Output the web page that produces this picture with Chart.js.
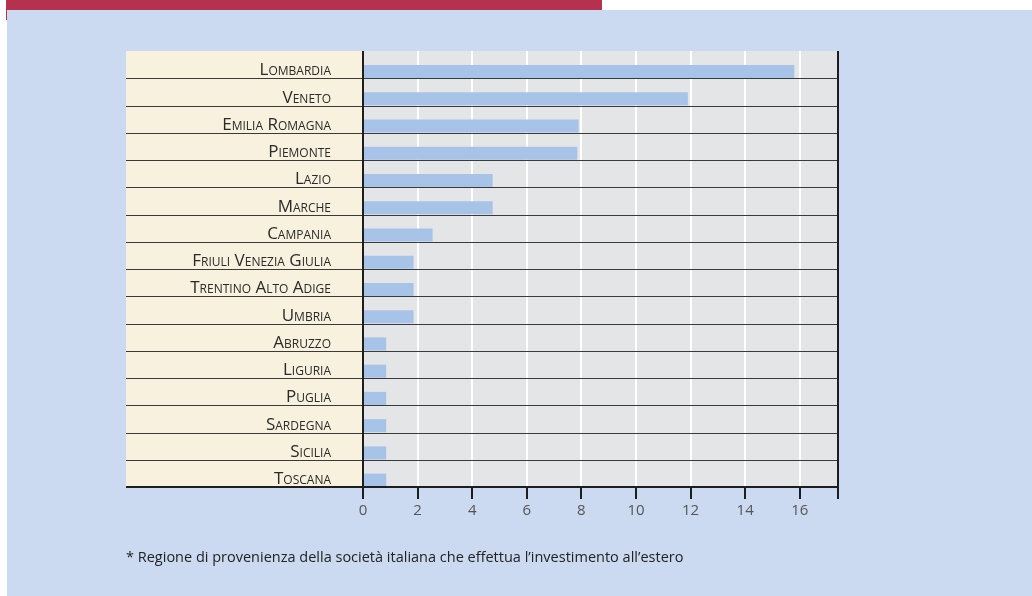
<!DOCTYPE html>
<html>
<head>
<meta charset="utf-8">
<script src="https://cdn.jsdelivr.net/npm/chart.js@4/dist/chart.umd.min.js"></script>
<style>
   html, body { margin: 0; padding: 0; background: #fff; }
   canvas { display: block; }
</style>
</head>
<body>
<canvas id="chart" width="1032" height="596"></canvas>
<script>
const regions = [
   'Lombardia', 'Veneto', 'Emilia Romagna', 'Piemonte', 'Lazio', 'Marche',
   'Campania', 'Friuli Venezia Giulia', 'Trentino Alto Adige', 'Umbria',
   'Abruzzo', 'Liguria', 'Puglia', 'Sardegna', 'Sicilia', 'Toscana',
]
const shares = [ 15.8, 11.9, 7.9, 7.85, 4.75, 4.75, 2.55, 1.85, 1.85, 1.85, 0.85, 0.85, 0.85, 0.85, 0.85, 0.85 ]
const xTicks = [ 0, 2, 4, 6, 8, 10, 12, 14, 16 ]
const footnote = '* Regione di provenienza della società italiana che effettua l’investimento all’estero'

const colors = {
   red: '#b5324e',
   panel: '#cbdaf0',
   labels: '#f7f1de',
   plot: '#e4e5e6',
   bar: '#a7c3e8',
   line: '#3a3a3a',
   axis: '#1e1e1e',
}

const labelLeft = 126

// backgrounds, row separators and the frame round the plot
const decorations = {
   id: 'decorations',
   beforeDraw( chart ) {
      const { ctx, chartArea: a } = chart
      ctx.save()
      ctx.fillStyle = '#fff'
      ctx.fillRect( 0, 0, chart.width, chart.height )
      ctx.fillStyle = colors.red
      ctx.fillRect( 6, 0, 596, 10 )
      ctx.fillRect( 6, 0, 1, 20 )
      ctx.fillStyle = colors.panel
      ctx.fillRect( 7, 10, chart.width - 7, chart.height - 10 )
      ctx.fillStyle = colors.labels
      ctx.fillRect( labelLeft, a.top, a.left - labelLeft, a.bottom - a.top )
      ctx.fillStyle = colors.plot
      ctx.fillRect( a.left, a.top, a.right - a.left, a.bottom - a.top )

      ctx.fillStyle = '#222'
      ctx.font = '14.5px "Open Sans"'
      ctx.textBaseline = 'middle'
      ctx.fillText( footnote, labelLeft, 558 )
      ctx.restore()
   },
   afterDatasetsDraw( chart ) {
      const { ctx, chartArea: a } = chart
      const y = chart.scales.y
      ctx.save()
      ctx.strokeStyle = colors.line
      ctx.lineWidth = 1
      for ( let i = 1; i < regions.length; i++ ) {
         const py = Math.round( y.getPixelForValue( i - 0.5 ) ) + 0.5
         ctx.beginPath()
         ctx.moveTo( labelLeft, py )
         ctx.lineTo( a.right, py )
         ctx.stroke()
      }
      ctx.restore()
   },
   afterDraw( chart ) {
      const { ctx, chartArea: a } = chart
      ctx.save()
      ctx.strokeStyle = colors.axis
      ctx.lineWidth = 2
      ctx.beginPath()
      ctx.moveTo( labelLeft, a.bottom )
      ctx.lineTo( a.right + 1, a.bottom )
      ctx.moveTo( a.left, a.top )
      ctx.lineTo( a.left, a.bottom + 12 )
      ctx.moveTo( a.right, a.top )
      ctx.lineTo( a.right, a.bottom + 12 )
      ctx.stroke()
      ctx.restore()
   },
}

new Chart( document.getElementById( 'chart' ), {
   type: 'bar',
   plugins: [ decorations ],
   data: {
      labels: regions,
      datasets: [
         // empty first group keeps each bar in the lower half of its row
         { data: [], backgroundColor: 'transparent' },
         {
            data: shares,
            backgroundColor: colors.bar,
            borderWidth: 0,
         },
      ],
   },
   options: {
      indexAxis: 'y',
      responsive: false,
      animation: false,
      categoryPercentage: 1,
      barPercentage: 0.96,
      layout: {
         padding: { top: 51, right: 194, bottom: 0, left: 0 },
      },
      plugins: {
         legend: { display: false },
         tooltip: { enabled: false },
      },
      scales: {
         x: {
            min: 0,
            max: 17.4,
            afterFit( scale ) { scale.height = 109 },
            afterBuildTicks( scale ) { scale.ticks = xTicks.map( ( value ) => ( { value } ) ) },
            border: { display: false },
            grid: {
               color: '#ffffff',
               lineWidth: 2,
               tickColor: colors.axis,
               tickWidth: 2,
               tickLength: 12,
            },
            ticks: {
               color: '#555',
               padding: 3,
               font: { family: '"Open Sans"', size: 15 },
            },
         },
         y: {
            afterFit( scale ) { scale.width = 363 },
            border: { display: false },
            grid: { display: false, drawTicks: false },
            ticks: {
               color: '#2a2a2a',
               padding: 32,
               labelOffset: 6,
               font: { family: '"Open Sans"', size: 17, weight: 'small-caps' },
            },
         },
      },
   },
} )
</script>
</body>
</html>
